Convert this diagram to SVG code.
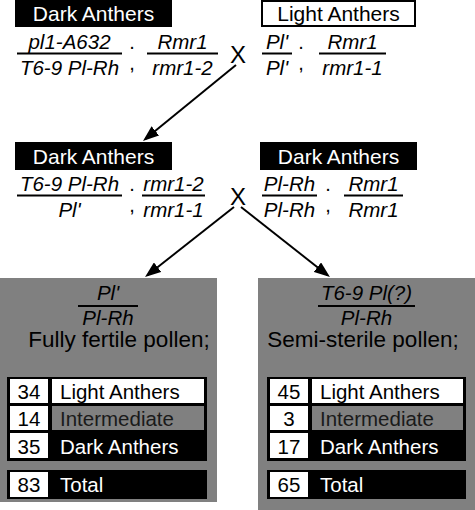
<svg xmlns="http://www.w3.org/2000/svg" width="475" height="510" viewBox="0 0 475 510">
<style>
text{font-family:"Liberation Sans",Arial,sans-serif;}
.lbl{font-size:21px;text-anchor:middle;}
.w{fill:#fff;}
.g{font-size:20.5px;font-style:italic;text-anchor:middle;fill:#000;}
.sc{font-size:20px;text-anchor:middle;}
.x{font-size:24px;text-anchor:middle;}
.fl{stroke:#000;stroke-width:2;}
.big{font-size:22.5px;text-anchor:middle;fill:#000;}
.num{font-size:20.5px;text-anchor:middle;fill:#000;}
.tl{font-size:20.5px;}
.conn{stroke:#000;stroke-width:2;fill:none;marker-end:url(#ah);}
</style>
<defs>
<marker id="ah" viewBox="0 0 16 12" refX="13" refY="6" markerWidth="16" markerHeight="12" markerUnits="userSpaceOnUse" orient="auto">
<path d="M0,0 L16,6 L0,12 z" fill="#000"/>
</marker>
</defs>
<rect width="475" height="510" fill="#fff"/>

<g id="parent-left">
<rect x="15" y="0" width="157" height="27" fill="#000"/>
<text class="lbl w" x="93.5" y="21">Dark Anthers</text>
<line class="fl" x1="17" y1="53.5" x2="122" y2="53.5"/>
<text class="g" x="69.5" y="49">pl1-A632</text>
<text class="g" x="69.5" y="75">T6-9 Pl-Rh</text>
<text class="sc" x="132" y="49">.</text>
<text class="sc" x="132" y="70">,</text>
<line class="fl" x1="147" y1="53.5" x2="218" y2="53.5"/>
<text class="g" x="182.5" y="49">Rmr1</text>
<text class="g" x="182.5" y="75">rmr1-2</text>
</g>

<g id="cross-1">
<text class="x" x="238" y="63">X</text>
</g>

<g id="parent-right">
<rect x="262" y="1" width="153" height="25" fill="#fff" stroke="#000" stroke-width="2"/>
<text class="lbl" x="338.5" y="21">Light Anthers</text>
<line class="fl" x1="262" y1="53.5" x2="292" y2="53.5"/>
<text class="g" x="277" y="49">Pl'</text>
<text class="g" x="277" y="75">Pl'</text>
<text class="sc" x="301" y="49">.</text>
<text class="sc" x="301" y="70">,</text>
<line class="fl" x1="319" y1="53.5" x2="386" y2="53.5"/>
<text class="g" x="352.5" y="49">Rmr1</text>
<text class="g" x="352.5" y="75">rmr1-1</text>
</g>

<g id="f1-left">
<rect x="15" y="142" width="157" height="28" fill="#000"/>
<text class="lbl w" x="93.5" y="164">Dark Anthers</text>
<line class="fl" x1="17" y1="195.5" x2="122" y2="195.5"/>
<text class="g" x="69.5" y="191">T6-9 Pl-Rh</text>
<text class="g" x="69.5" y="217">Pl'</text>
<text class="sc" x="132" y="191">.</text>
<text class="sc" x="132" y="212">,</text>
<line class="fl" x1="142" y1="195.5" x2="205" y2="195.5"/>
<text class="g" x="173.5" y="191">rmr1-2</text>
<text class="g" x="173.5" y="217">rmr1-1</text>
</g>

<g id="cross-2">
<text class="x" x="238" y="205">X</text>
</g>

<g id="f1-right">
<rect x="260" y="142" width="157" height="28" fill="#000"/>
<text class="lbl w" x="338.5" y="164">Dark Anthers</text>
<line class="fl" x1="262" y1="195.5" x2="317" y2="195.5"/>
<text class="g" x="289.5" y="191">Pl-Rh</text>
<text class="g" x="289.5" y="217">Pl-Rh</text>
<text class="sc" x="328" y="191">.</text>
<text class="sc" x="328" y="212">,</text>
<line class="fl" x1="344" y1="195.5" x2="403" y2="195.5"/>
<text class="g" x="373.5" y="191">Rmr1</text>
<text class="g" x="373.5" y="217">Rmr1</text>
</g>

<g id="progeny-left">
<rect x="0" y="278" width="217" height="224" fill="#808080"/>
<line class="fl" x1="78" y1="306" x2="138" y2="306"/>
<text class="g" x="108" y="300">Pl'</text>
<text class="g" x="108" y="325">Pl-Rh</text>
<text class="big" x="119" y="347">Fully fertile pollen;</text>
<rect x="7" y="377" width="200" height="84" fill="#000"/>
<rect x="10" y="379" width="38" height="24" fill="#fff"/>
<rect x="52" y="379" width="152" height="24" fill="#fff"/>
<rect x="10" y="406" width="38" height="24" fill="#fff"/>
<rect x="52" y="406" width="152" height="24" fill="#808080"/>
<rect x="10" y="433" width="38" height="25" fill="#fff"/>
<text class="num" x="29" y="399">34</text>
<text class="tl" x="60" y="399">Light Anthers</text>
<text class="num" x="29" y="426">14</text>
<text class="tl" x="60" y="426" fill="#1a1a1a">Intermediate</text>
<text class="num" x="29" y="454">35</text>
<text class="tl w" x="60" y="454">Dark Anthers</text>
<rect x="7" y="470" width="200" height="29" fill="#000"/>
<rect x="10" y="472" width="38" height="25" fill="#fff"/>
<text class="num" x="29" y="492">83</text>
<text class="tl w" x="60" y="492">Total</text>
</g>

<g id="progeny-right">
<rect x="258" y="278" width="217" height="232" fill="#808080"/>
<line class="fl" x1="318" y1="306" x2="415" y2="306"/>
<text class="g" x="366.5" y="300">T6-9 Pl(?)</text>
<text class="g" x="366.5" y="325">Pl-Rh</text>
<text class="big" x="363" y="347">Semi-sterile pollen;</text>
<rect x="267" y="377" width="199" height="84" fill="#000"/>
<rect x="270" y="379" width="38" height="24" fill="#fff"/>
<rect x="312" y="379" width="151" height="24" fill="#fff"/>
<rect x="270" y="406" width="38" height="24" fill="#fff"/>
<rect x="312" y="406" width="151" height="24" fill="#808080"/>
<rect x="270" y="433" width="38" height="25" fill="#fff"/>
<text class="num" x="289" y="399">45</text>
<text class="tl" x="320" y="399">Light Anthers</text>
<text class="num" x="289" y="426">3</text>
<text class="tl" x="320" y="426" fill="#1a1a1a">Intermediate</text>
<text class="num" x="289" y="454">17</text>
<text class="tl w" x="320" y="454">Dark Anthers</text>
<rect x="267" y="470" width="199" height="29" fill="#000"/>
<rect x="270" y="472" width="38" height="25" fill="#fff"/>
<text class="num" x="289" y="492">65</text>
<text class="tl w" x="320" y="492">Total</text>
</g>

<g id="connectors">
<line class="conn" x1="236" y1="65" x2="145.3" y2="139.1"/>
<line class="conn" x1="234" y1="207" x2="147.4" y2="275.2"/>
<line class="conn" x1="241" y1="207" x2="327.6" y2="275.2"/>
</g>
</svg>
